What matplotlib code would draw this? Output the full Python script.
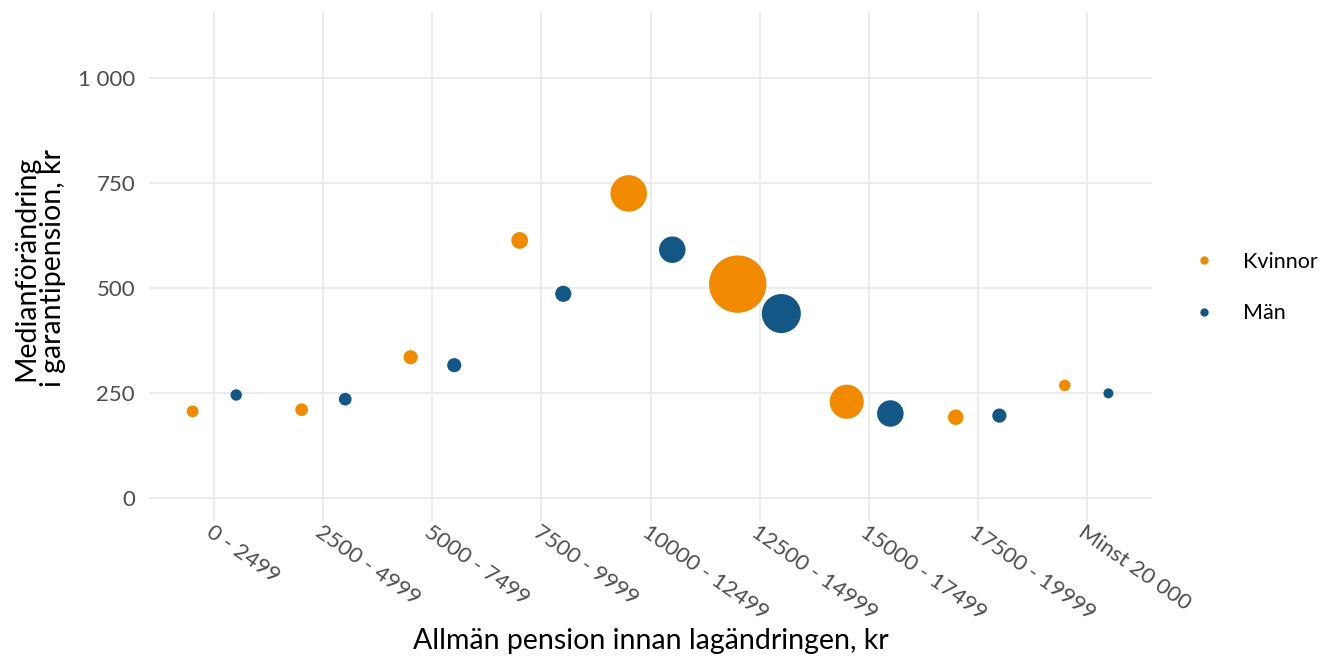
import matplotlib
matplotlib.use("Agg")
import matplotlib.pyplot as plt
from matplotlib.lines import Line2D
import numpy as np

plt.rcParams['font.family'] = ['Lato', 'DejaVu Sans']

kategorier = ["0 - 2499", "2500 - 4999", "5000 - 7499", "7500 - 9999",
              "10000 - 12499", "12500 - 14999", "15000 - 17499",
              "17500 - 19999", "Minst 20 000"]
kvinnor_median = [206, 210, 335, 613, 725, 509, 229, 192, 268]
man_median = [245, 235, 316, 486, 591, 439, 201, 196, 249]
# antal personer (tusental, ungefärligt från bubbelstorlek)
kvinnor_antal = [14, 16, 20, 28, 133, 328, 116, 24, 13]
man_antal = [13, 16, 20, 26, 70, 152, 70, 20, 10]
serier = ["Kvinnor", "Män"]
farger = {"Kvinnor": "#F28A00", "Män": "#135787"}
y_ticks = [0, 250, 500, 750, 1000]
y_ticklabels = ["0", "250", "500", "750", "1 000"]

fig = plt.figure(figsize=(13.22, 6.6), dpi=100)
ax = fig.add_axes([149/1322, 1-521/660, (1152-149)/1322, (521-12)/660])

x = np.arange(1, len(kategorier) + 1)
dodge = 0.2
size_factor = 5.2
ax.scatter(x - dodge, kvinnor_median, s=np.array(kvinnor_antal) * size_factor,
           color=farger["Kvinnor"], linewidths=0, zorder=3)
ax.scatter(x + dodge, man_median, s=np.array(man_antal) * size_factor,
           color=farger["Män"], linewidths=0, zorder=3)

ax.set_xlim(0.4, 9.6)
ax.set_ylim(-55, 1157)
ax.set_yticks(y_ticks)
ax.set_yticklabels(y_ticklabels)
ax.set_xticks(x)
ax.set_xticklabels(kategorier, rotation=-35, ha='left', va='top',
                   rotation_mode='anchor')
ax.tick_params(axis='both', length=0, labelsize=16, labelcolor='#4D4D4D')
ax.tick_params(axis='y', pad=10)
ax.tick_params(axis='x', pad=1)
ax.grid(True, color='#EBEBEB', linewidth=1.3, zorder=0)
ax.set_axisbelow(True)
for sp in ax.spines.values():
    sp.set_visible(False)

fig.text(650.5/1322, 1-641/660, "Allmän pension innan lagändringen, kr",
         fontsize=20.5, color='black', ha='center', va='center')
fig.text(40/1322, 1-268/660, "Medianförändring\ni garantipension, kr",
         fontsize=20.5, color='black', ha='center', va='center',
         rotation=90, linespacing=1.02, multialignment='center')

handles = [Line2D([0], [0], marker='o', linestyle='', markersize=6,
                  markerfacecolor=farger[s], markeredgewidth=0) for s in serier]
fig.legend(handles, serier, loc='center left',
           bbox_to_anchor=(1193/1322, 1-287.5/660), frameon=False,
           fontsize=15.5, handlelength=1.0, handletextpad=1.3,
           labelspacing=1.45, borderpad=0, borderaxespad=0)

fig.savefig("out.png", dpi=100)
